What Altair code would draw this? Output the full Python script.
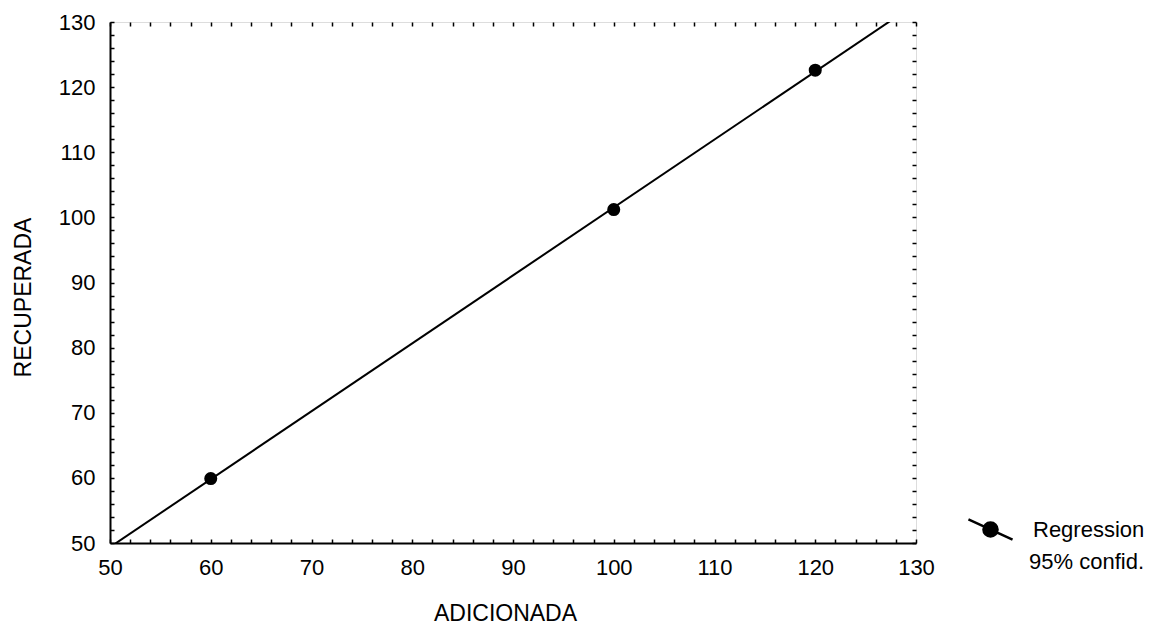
import altair as alt
import pandas as pd

# ---- data ----
adicionada = [60, 100, 120]
recuperada = [59.9, 101.2, 122.6]
serie = ["Regression", "Regression", "Regression"]
axis_values = [50, 60, 70, 80, 90, 100, 110, 120, 130]
minor_values = list(range(50, 131, 2))
legend_title = "95% confid."

W, H = 806, 521
FONT = "Liberation Sans"

df = pd.DataFrame({"ADICIONADA": adicionada, "RECUPERADA": recuperada, "serie": serie})

xs = alt.Scale(domain=[50, 130], nice=False, zero=False)
ys = alt.Scale(domain=[50, 130], nice=False, zero=False)

label_style = dict(labelFont=FONT, labelFontSize=22, labelColor="black",
                   titleFont=FONT, titleFontSize=23, titleFontWeight="normal",
                   titleColor="black", grid=False, ticks=False, labelFlush=False,
                   domainColor="black", domainWidth=2)

x_main = alt.X("ADICIONADA:Q", scale=xs, title="ADICIONADA",
               axis=alt.Axis(orient="bottom", values=axis_values, labelPadding=14,
                             titleX=395, titleY=70, titleAlign="center",
                             titleBaseline="middle", **label_style))
y_main = alt.Y("RECUPERADA:Q", scale=ys, title="RECUPERADA",
               axis=alt.Axis(orient="left", values=axis_values, labelPadding=15,
                             titleX=-87, titleY=275, titleAngle=270, titleAlign="center",
                             titleBaseline="middle", **label_style))


def tick_axis(orient, offset):
    return alt.Axis(orient=orient, offset=offset, values=minor_values, labels=False,
                    title="", grid=False, domain=False, ticks=True, tickSize=4,
                    tickWidth=1.5, tickColor="black")


line = alt.Chart(df).transform_regression(
    "ADICIONADA", "RECUPERADA", extent=[50, 130]
).mark_line(color="black", strokeWidth=2, clip=True).encode(x=x_main, y=y_main)

sym_path = ("M-1.47,-0.67L1.47,0.67M0.47,0A0.47,0.47,0,1,1,-0.47,0"
            "A0.47,0.47,0,1,1,0.47,0Z")

points = alt.Chart(df).mark_circle(size=170, opacity=1).encode(
    x=alt.X("ADICIONADA:Q", scale=xs, axis=tick_axis("top", -H)),
    y=alt.Y("RECUPERADA:Q", scale=ys, axis=tick_axis("right", -W)),
    color=alt.Color("serie:N", scale=alt.Scale(domain=["Regression"], range=["black"]),
                    legend=alt.Legend(title=legend_title, titleOrient="bottom",
                                      titleAnchor="end", titleFont=FONT, titleFontSize=22,
                                      titleFontWeight="normal", titleColor="black",
                                      titlePadding=7,
                                      orient="none", legendX=864, legendY=491,
                                      padding=0, symbolType=sym_path, symbolSize=900,
                                      symbolFillColor="black", symbolStrokeColor="black",
                                      symbolStrokeWidth=2.5, symbolOpacity=1,
                                      labelFont=FONT, labelFontSize=22, labelColor="black",
                                      labelOffset=26)),
)

ghost = alt.Chart(df).mark_point(opacity=0).encode(
    x=alt.X("ADICIONADA:Q", scale=xs, axis=tick_axis("bottom", -H)),
    y=alt.Y("RECUPERADA:Q", scale=ys, axis=tick_axis("left", -W)),
)

chart = alt.layer(line, points, ghost).resolve_axis(
    x="independent", y="independent"
).properties(
    width=W, height=H, autosize="none",
    padding={"left": 110, "top": 22, "right": 246, "bottom": 81},
).configure_view(stroke="black", strokeWidth=2).configure(background="white")

chart.save("out.html", embed_options={"renderer": "svg", "actions": False})
